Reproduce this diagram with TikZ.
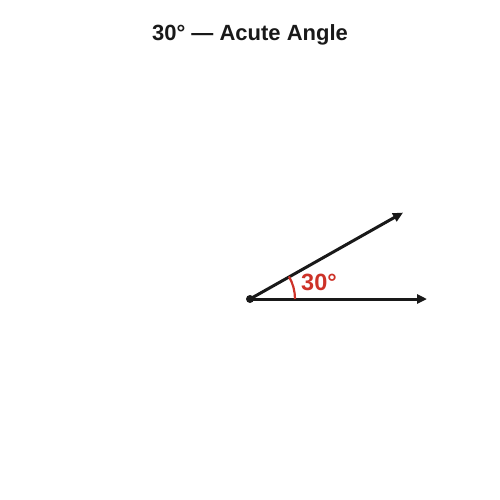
\documentclass[tikz,border=0pt]{standalone}
\usepackage{fontspec}
\setmainfont{Liberation Sans}
\usetikzlibrary{arrows.meta}
\definecolor{angred}{RGB}{205,50,40}
\definecolor{ink}{RGB}{25,25,25}
\tikzset{
  ray/.style={draw=ink, line width=3pt, -{Triangle[length=10pt,width=9pt]}},
  anglearc/.style={draw=angred, line width=2.2pt},
  title/.style={font=\fontsize{22}{26}\selectfont\bfseries, text=ink},
  anglelabel/.style={font=\fontsize{23.5}{27}\selectfont\bfseries, text=angred}
}
\begin{document}
\begin{tikzpicture}[x=1pt,y=-1pt]
\useasboundingbox (0,0) rectangle (500,500);
\node[title] (t) at (250,34.5) {30° — Acute Angle};
\coordinate (v) at (250,299);
\coordinate (h) at (427,299);
\coordinate (u) at (403,212.6);
\draw[ray] (v) -- (h);
\draw[ray] (v) -- (u);
\fill[ink] (v) circle (4pt);
\draw[anglearc] ([shift={(0:45)}]v) arc[start angle=0, end angle=-30, radius=45];
\node[anglelabel, anchor=west, inner sep=0pt] (l) at (301,282.5) {30°};
\end{tikzpicture}
\end{document}
